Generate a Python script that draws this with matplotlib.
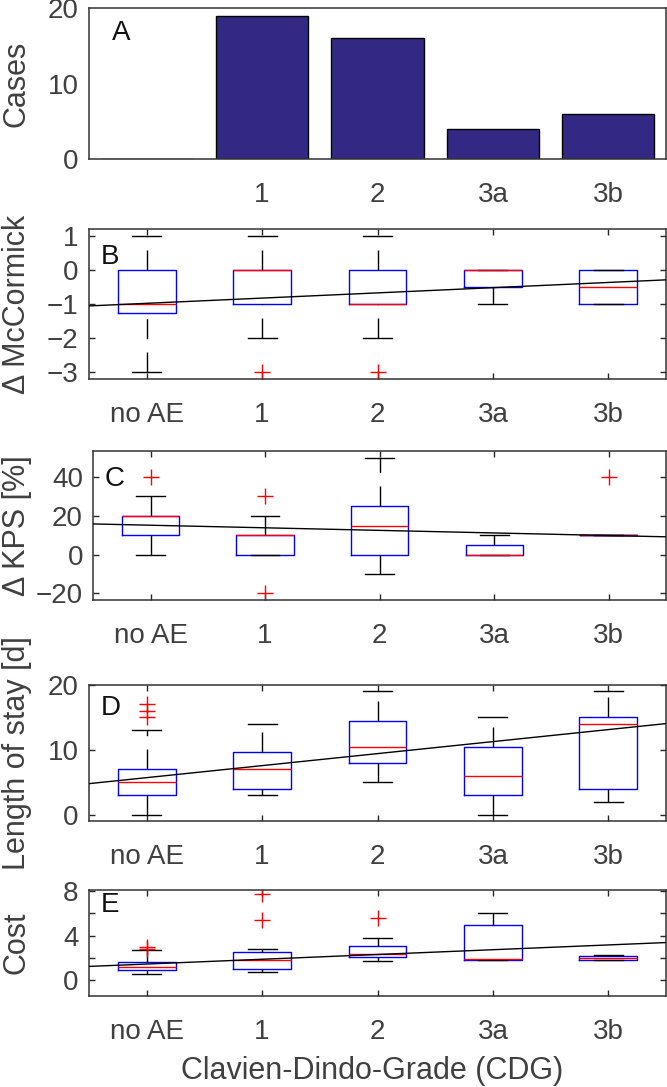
import matplotlib
matplotlib.use('Agg')
import matplotlib.pyplot as plt
import matplotlib.transforms as mtransforms

plt.rcParams['font.family'] = ['Liberation Sans', 'DejaVu Sans']

# ---------------- data ----------------
categories = ['no AE', '1', '2', '3a', '3b']
bar_labels = ['', '1', '2', '3a', '3b']
cases = [0, 19, 16, 4, 6]

# Panel B: Delta McCormick
mc_med = [-1, 0, -1, 0, -0.5]
mc_q1 = [-1.25, -1, -1, -0.5, -1]
mc_q3 = [0, 0, 0, 0, 0]
mc_lo = [-3, -2, -2, -1, -1]
mc_hi = [1, 1, 1, 0, 0]
mc_fl = [[], [-3], [-3], [], []]

# Panel C: Delta KPS [%]
kps_med = [20, 10, 15, 0, 10]
kps_q1 = [10, 0, 0, 0, 10]
kps_q3 = [20, 10, 25, 5, 10]
kps_lo = [0, 0, -10, 0, 10]
kps_hi = [30, 20, 50, 10, 10]
kps_fl = [[40], [30, -20], [], [], [40]]

# Panel D: Length of stay [d]
los_med = [5, 7, 10.5, 6, 14]
los_q1 = [3, 4, 8, 3, 4]
los_q3 = [7, 9.75, 14.5, 10.5, 15]
los_lo = [0, 3, 5, 0, 2]
los_hi = [13, 14, 19, 15, 19]
los_fl = [[15, 16, 17], [], [], [], []]

# Panel E: Cost
cost_med = [1.15, 1.75, 2.33, 1.88, 1.97]
cost_q1 = [0.85, 0.97, 2.06, 1.79, 1.79]
cost_q3 = [1.6, 2.48, 3.03, 4.94, 2.15]
cost_lo = [0.57, 0.7, 1.7, 1.79, 1.75]
cost_hi = [2.66, 2.75, 3.8, 6.0, 2.2]
cost_fl = [[2.8, 3.0], [5.4, 7.7], [5.6], [], []]

# regression lines (value at first category, slope per category)
reg_intercept = [-0.98, 15.14, 5.73, 1.43]
reg_slope = [0.153, -1.33, 1.85, 0.43]

ylabels = ['Cases', '\u0394 McCormick', '\u0394 KPS [%]', 'Length of stay [d]', 'Cost']
letters = ['A', 'B', 'C', 'D', 'E']

# ---------------- layout ----------------
W, H = 667, 1087
fig = plt.figure(figsize=(W / 100, H / 100), dpi=100)

def axes_px(left, right, top, bottom):
    return fig.add_axes([left / W, 1 - bottom / H, (right - left) / W, (bottom - top) / H])

ax_rects = [(89, 666, 8, 159), (89, 666, 229, 379), (93.3, 666, 451, 600),
            (89, 666, 685, 821), (89, 666, 890, 996)]
axes = [axes_px(*r) for r in ax_rects]

TICK_C = '#404040'
FRAME_C = '#333333'
TICK_FS = 20
LABEL_FS = 22
positions = list(range(len(categories)))

def style_axes(ax, ticks=True):
    for s in ax.spines.values():
        s.set_color(FRAME_C)
        s.set_linewidth(1.1)
    ax.tick_params(axis='both', direction='in', length=4.3 if ticks else 0,
                   width=1.0, color='#262626', labelcolor=TICK_C,
                   labelsize=TICK_FS, top=ticks, right=ticks)
    ax.tick_params(axis='x', pad=16.5)
    ax.tick_params(axis='y', pad=7.5)
    ax.set_xlim(-0.5, len(categories) - 0.5)

# ---------------- panel A ----------------
axA = axes[0]
axA.bar(positions, cases, width=0.8, color='#332985', edgecolor='black', linewidth=1.0)
axA.set_ylim(0, 20)
axA.set_yticks([0, 10, 20])
axA.set_xticks(positions)
axA.set_xticklabels(bar_labels)
style_axes(axA, ticks=False)

# ---------------- box panels ----------------
def make_stats(med, q1, q3, lo, hi, fl):
    return [dict(med=m, q1=a, q3=b, whislo=l, whishi=h, fliers=f)
            for m, a, b, l, h, f in zip(med, q1, q3, lo, hi, fl)]

box_data = [
    make_stats(mc_med, mc_q1, mc_q3, mc_lo, mc_hi, mc_fl),
    make_stats(kps_med, kps_q1, kps_q3, kps_lo, kps_hi, kps_fl),
    make_stats(los_med, los_q1, los_q3, los_lo, los_hi, los_fl),
    make_stats(cost_med, cost_q1, cost_q3, cost_lo, cost_hi, cost_fl),
]
ylims = [(-3.2, 1.2), (-23.5, 53.5), (-0.95, 19.95), (-1.45, 8.1)]
yticks = [[-3, -2, -1, 0, 1], [-20, 0, 20, 40], [0, 10, 20], [0, 2, 4, 6, 8]]
yticklabels = [None, None, None, ['0', '', '4', '', '8']]

for i, ax in enumerate(axes[1:]):
    res = ax.bxp(box_data[i], positions=positions, widths=0.5, capwidths=0.25,
                 showfliers=True,
                 boxprops=dict(color='blue', linewidth=1.0),
                 medianprops=dict(color='red', linewidth=1.0),
                 whiskerprops=dict(color='black', linewidth=1.0, linestyle=(0, (14.4, 9.6))),
                 capprops=dict(color='black', linewidth=1.0),
                 flierprops=dict(marker='+', markeredgecolor='red', markersize=12,
                                 markeredgewidth=1.0, linestyle='none'))
    # MATLAB draws the lower whisker starting from its end point
    for w in res['whiskers'][0::2]:
        w.set_ydata(w.get_ydata()[::-1])
    ax.axline((0, reg_intercept[i]), slope=reg_slope[i], color='black', linewidth=1.0, zorder=5)
    ax.set_ylim(*ylims[i])
    ax.set_yticks(yticks[i])
    if yticklabels[i] is not None:
        ax.set_yticklabels(yticklabels[i])
    ax.set_xticks(positions)
    ax.set_xticklabels(categories)
    style_axes(ax, ticks=True)

# ---------------- labels ----------------
letter_pos = [(112, 33), (101, 256.7), (105, 479), (101, 708), (101, 905)]
for ax, lab, txt, (lx, ly) in zip(axes, ylabels, letters, letter_pos):
    ax.set_ylabel(lab, fontsize=LABEL_FS, color=TICK_C)
    tr = mtransforms.blended_transform_factory(fig.transFigure, ax.transAxes)
    ax.yaxis.set_label_coords(32 / W, 0.5, transform=tr)
    fig.text(lx / W, 1 - ly / H, txt, fontsize=TICK_FS, color='#111111',
             ha='left', va='center')

axE = axes[-1]
axE.set_xlabel('Clavien-Dindo-Grade (CDG)', fontsize=LABEL_FS, color=TICK_C)
trx = mtransforms.blended_transform_factory(axE.transAxes, fig.transFigure)
axE.xaxis.set_label_coords(0.49, 1 - 1056 / H, transform=trx)

fig.savefig('out.png', dpi=100)
